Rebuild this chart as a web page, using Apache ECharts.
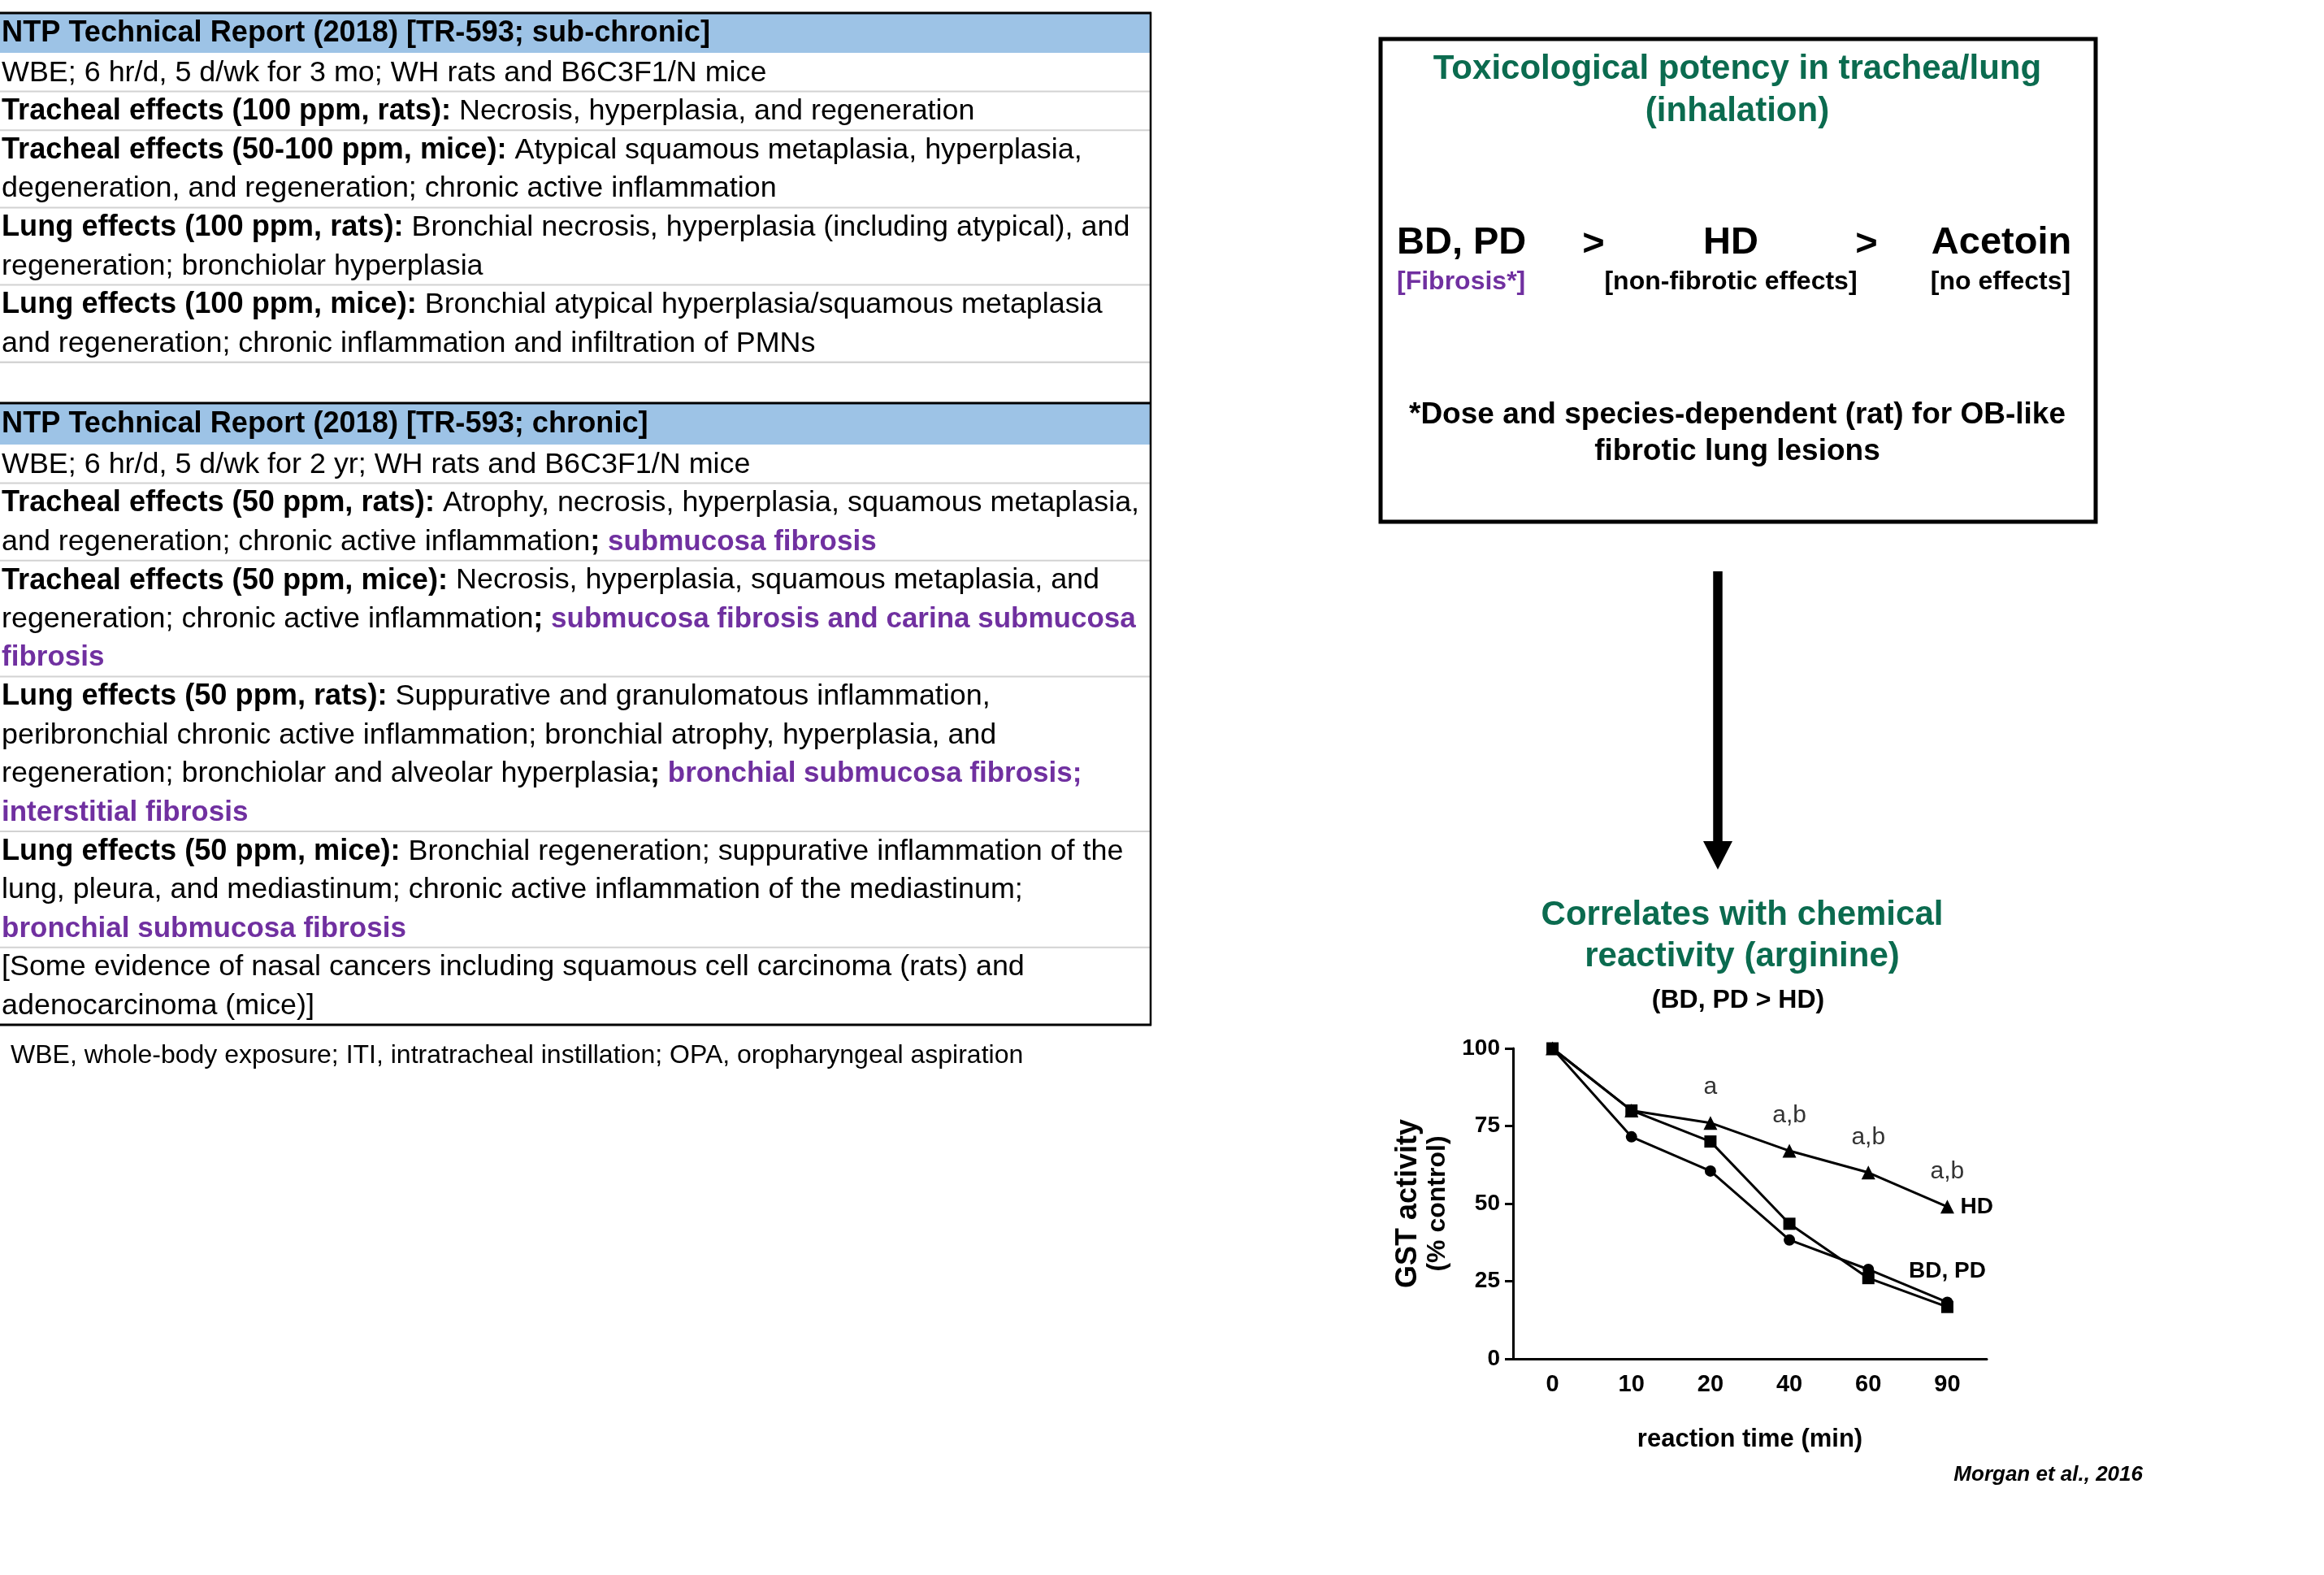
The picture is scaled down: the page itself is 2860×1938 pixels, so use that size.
<!DOCTYPE html>
<html>
<head>
<meta charset="utf-8">
<script src="https://cdn.jsdelivr.net/npm/echarts@6/dist/echarts.min.js"></script>
<style>
html,body{margin:0;padding:0;background:#fff;}
#main{width:2860px;height:1938px;}
</style>
</head>
<body>
<div id="main"></div>
<script>
// ---------------- DATA ----------------
const reactionTimes = ['0', '10', '20', '40', '60', '90'];
const hdValues = [100, 80, 76, 67, 60, 49];
const squareValues = [100, 80, 70, 43.5, 26, 16.7];
const circleValues = [100, 71.5, 60.5, 38.3, 28.8, 18.2];
const hdAnnotations = ['', '', 'a', 'a,b', 'a,b', 'a,b'];
const yTicks = [0, 25, 50, 75, 100];

const subHeader = 'NTP Technical Report (2018) [TR-593; sub-chronic]';
const subRows = [
  ['{r|WBE; 6 hr/d, 5 d/wk for 3 mo; WH rats and B6C3F1/N mice}'],
  ['{b|Tracheal effects (100 ppm, rats):}{r| Necrosis, hyperplasia, and regeneration}'],
  ['{b|Tracheal effects (50-100 ppm, mice):}{r| Atypical squamous metaplasia, hyperplasia,}',
   '{r|degeneration, and regeneration; chronic active inflammation}'],
  ['{b|Lung effects (100 ppm, rats):}{r| Bronchial necrosis, hyperplasia (including atypical), and}',
   '{r|regeneration; bronchiolar hyperplasia}'],
  ['{b|Lung effects (100 ppm, mice):}{r| Bronchial atypical hyperplasia/squamous metaplasia}',
   '{r|and regeneration; chronic inflammation and infiltration of PMNs}'],
  ['']
];
const chronicHeader = 'NTP Technical Report (2018) [TR-593; chronic]';
const chronicRows = [
  ['{r|WBE; 6 hr/d, 5 d/wk for 2 yr; WH rats and B6C3F1/N mice}'],
  ['{b|Tracheal effects (50 ppm, rats):}{r| Atrophy, necrosis, hyperplasia, squamous metaplasia,}',
   '{r|and regeneration; chronic active inflammation}{b|;}{p| submucosa fibrosis}'],
  ['{b|Tracheal effects (50 ppm, mice):}{r| Necrosis, hyperplasia, squamous metaplasia, and}',
   '{r|regeneration; chronic active inflammation}{b|;}{p| submucosa fibrosis and carina submucosa}',
   '{p|fibrosis}'],
  ['{b|Lung effects (50 ppm, rats):}{r| Suppurative and granulomatous inflammation,}',
   '{r|peribronchial chronic active inflammation; bronchial atrophy, hyperplasia, and}',
   '{r|regeneration; bronchiolar and alveolar hyperplasia}{b|;}{p| bronchial submucosa fibrosis;}',
   '{p|interstitial fibrosis}'],
  ['{b|Lung effects (50 ppm, mice):}{r| Bronchial regeneration; suppurative inflammation of the}',
   '{r|lung, pleura, and mediastinum; chronic active inflammation of the mediastinum;}',
   '{p|bronchial submucosa fibrosis}'],
  ['{r|[Some evidence of nasal cancers including squamous cell carcinoma (rats) and}',
   '{r|adenocarcinoma (mice)]}']
];
const footnote = 'WBE, whole-body exposure; ITI, intratracheal instillation; OPA, oropharyngeal aspiration';

const boxTitle = ['Toxicological potency in trachea/lung', '(inhalation)'];
const potencyNames = ['BD, PD', 'HD', 'Acetoin'];
const potencyNotes = ['[Fibrosis*]', '[non-fibrotic effects]', '[no effects]'];
const boxFootnote = ['*Dose and species-dependent (rat) for OB-like', 'fibrotic lung lesions'];
const chartTitle = ['Correlates with chemical', 'reactivity (arginine)'];
const chartSubtitle = '(BD, PD > HD)';
const citation = 'Morgan et al., 2016';

// ---------------- STYLES ----------------
const FF = '"Liberation Sans", Arial, sans-serif';
const GREEN = '#0b6b4f';
const PURPLE = '#7030a0';
const HEADER_BLUE = '#9dc3e6';
const GRID_GRAY = '#d2d2d2';
const TFS = 36.2;
const rich = {
  r: {fontSize: 35.9, fontFamily: FF, fontWeight: 'normal', fill: '#000'},
  b: {fontSize: TFS, fontFamily: FF, fontWeight: 'bold', fill: '#000'},
  p: {fontSize: 35, fontFamily: FF, fontWeight: 'bold', fill: PURPLE}
};

function txt(x, y, text, o) {
  o = o || {};
  return {
    type: 'text', x: x, y: y, z: 10,
    style: Object.assign({
      text: text, fontSize: o.fontSize || TFS, fontFamily: FF,
      fontWeight: o.fontWeight || 'normal', fontStyle: o.fontStyle || 'normal',
      fill: o.fill || '#000',
      align: o.align || 'left', verticalAlign: 'middle',
      textAlign: o.align || 'left', textVerticalAlign: 'middle'
    }, o.rich ? {rich: o.rich} : {})
  };
}

// ---------------- TABLE LAYOUT ----------------
const graphics = [];
const TABLE_R = 1416;
const LH = 47.6;
function section(top, headerH, header, rows) {
  graphics.push({type: 'rect', shape: {x: 0, y: top, width: TABLE_R, height: headerH}, style: {fill: HEADER_BLUE}, z: 1});
  graphics.push(txt(2, top + headerH / 2 + 1, header, {fontWeight: 'bold'}));
  let y = top + headerH;
  rows.forEach(function (lines, i) {
    lines.forEach(function (ln, j) {
      if (ln) graphics.push(txt(2, y + LH * j + LH / 2 + 1, ln, {rich: rich}));
    });
    y += LH * lines.length;
    if (i < rows.length - 1) {
      graphics.push({type: 'line', shape: {x1: 0, y1: y, x2: TABLE_R, y2: y}, style: {stroke: GRID_GRAY, lineWidth: 2}, z: 2});
    }
  });
  return y;
}
const end1 = section(16, 49, subHeader, subRows);
graphics.push({type: 'line', shape: {x1: 0, y1: end1 - LH, x2: TABLE_R, y2: end1 - LH}, style: {stroke: GRID_GRAY, lineWidth: 2}, z: 2});
const end2 = section(496, 51, chronicHeader, chronicRows);
[16, 496, end2].forEach(function (yy) {
  graphics.push({type: 'line', shape: {x1: 0, y1: yy, x2: TABLE_R + 1, y2: yy}, style: {stroke: '#000', lineWidth: 3}, z: 3});
});
graphics.push({type: 'line', shape: {x1: TABLE_R, y1: 15, x2: TABLE_R, y2: end2 + 1}, style: {stroke: '#000', lineWidth: 2.5}, z: 3});
graphics.push(txt(13, 1299, footnote, {fontSize: 32}));

// ---------------- BOX ----------------
graphics.push({type: 'rect', shape: {x: 1699, y: 48, width: 880, height: 594}, style: {fill: 'none', stroke: '#000', lineWidth: 5}, z: 3});
graphics.push(txt(2138, 85, boxTitle[0], {fontSize: 42, fontWeight: 'bold', fill: GREEN, align: 'center'}));
graphics.push(txt(2138, 137, boxTitle[1], {fontSize: 42, fontWeight: 'bold', fill: GREEN, align: 'center'}));
graphics.push(txt(1719, 299, potencyNames[0], {fontSize: 47, fontWeight: 'bold'}));
graphics.push(txt(2130, 299, potencyNames[1], {fontSize: 47, fontWeight: 'bold', align: 'center'}));
graphics.push(txt(2463, 299, potencyNames[2], {fontSize: 47, fontWeight: 'bold', align: 'center'}));
graphics.push(txt(1961, 301, '>', {fontSize: 47, fontWeight: 'bold', align: 'center'}));
graphics.push(txt(2297, 301, '>', {fontSize: 47, fontWeight: 'bold', align: 'center'}));
graphics.push(txt(1719, 347, potencyNotes[0], {fontSize: 32, fontWeight: 'bold', fill: PURPLE}));
graphics.push(txt(2130, 347, potencyNotes[1], {fontSize: 32, fontWeight: 'bold', align: 'center'}));
graphics.push(txt(2462, 347, potencyNotes[2], {fontSize: 32, fontWeight: 'bold', align: 'center'}));
graphics.push(txt(2138, 511, boxFootnote[0], {fontSize: 37, fontWeight: 'bold', align: 'center'}));
graphics.push(txt(2138, 556, boxFootnote[1], {fontSize: 37, fontWeight: 'bold', align: 'center'}));

// ---------------- ARROW ----------------
graphics.push({type: 'line', shape: {x1: 2114, y1: 703, x2: 2114, y2: 1037}, style: {stroke: '#000', lineWidth: 11.5}, z: 3});
graphics.push({type: 'polygon', shape: {points: [[2096, 1035], [2132, 1035], [2114, 1070]]}, style: {fill: '#000'}, z: 3});

// ---------------- CHART TITLES ----------------
graphics.push(txt(2144, 1126, chartTitle[0], {fontSize: 42, fontWeight: 'bold', fill: GREEN, align: 'center'}));
graphics.push(txt(2144, 1177, chartTitle[1], {fontSize: 42, fontWeight: 'bold', fill: GREEN, align: 'center'}));
graphics.push(txt(2139, 1231, chartSubtitle, {fontSize: 32, fontWeight: 'bold', align: 'center'}));
graphics.push(txt(2637, 1815, citation, {fontSize: 26, fontWeight: 'bold', fontStyle: 'italic', align: 'right'}));

// ---------------- CHART ----------------
const lastIdx = circleValues.length - 1;
const lineCommon = {
  type: 'line', lineStyle: {color: '#000', width: 3}, itemStyle: {color: '#000'},
  showSymbol: true, showAllSymbol: true, z: 5
};
const chart = echarts.init(document.getElementById('main'), null, {renderer: 'canvas'});
chart.setOption({
  animation: false,
  backgroundColor: '#fff',
  textStyle: {fontFamily: FF},
  grid: {left: 1862, top: 1290, width: 583, height: 382, containLabel: false},
  xAxis: {
    type: 'category', data: reactionTimes, boundaryGap: true,
    axisLine: {lineStyle: {color: '#000', width: 3}},
    axisTick: {alignWithLabel: true, length: 9, lineStyle: {color: '#000', width: 3}},
    axisLabel: {color: '#000', fontSize: 29, fontWeight: 'bold', fontFamily: FF, margin: 17},
    name: 'reaction time (min)', nameLocation: 'middle', nameGap: 84,
    nameTextStyle: {color: '#000', fontSize: 31, fontWeight: 'bold', fontFamily: FF}
  },
  yAxis: {
    type: 'value', min: yTicks[0], max: yTicks[yTicks.length - 1], interval: 25,
    splitLine: {show: false},
    axisLine: {show: true, lineStyle: {color: '#000', width: 3}},
    axisTick: {show: true, length: 10, lineStyle: {color: '#000', width: 3}},
    axisLabel: {color: '#000', fontSize: 28, fontWeight: 'bold', fontFamily: FF, margin: 16},
    name: '{a|GST activity}\n{b|(% control)}', nameLocation: 'middle', nameRotate: 90, nameGap: 75,
    nameTextStyle: {
      rich: {
        a: {fontSize: 36, fontWeight: 'bold', fontFamily: FF, color: '#000', lineHeight: 36, align: 'center'},
        b: {fontSize: 32, fontWeight: 'bold', fontFamily: FF, color: '#000', lineHeight: 36, align: 'center'}
      }
    }
  },
  series: [
    Object.assign({}, lineCommon, {
      name: 'HD', data: hdValues, symbol: 'triangle', symbolSize: 17,
      label: {
        show: true, position: 'top', distance: 20, color: '#333', fontSize: 30, fontFamily: FF,
        formatter: function (p) { return hdAnnotations[p.dataIndex]; }
      },
      endLabel: {show: true, formatter: 'HD', color: '#000', fontSize: 28, fontWeight: 'bold', fontFamily: FF, distance: 16}
    }),
    Object.assign({}, lineCommon, {
      name: 'circle', data: circleValues, symbol: 'circle', symbolSize: 14,
      label: {
        show: true, position: 'top', distance: 17, color: '#000', fontSize: 28, fontWeight: 'bold', fontFamily: FF,
        formatter: function (p) { return p.dataIndex === lastIdx ? 'BD, PD' : ''; }
      }
    }),
    Object.assign({}, lineCommon, {
      name: 'square', data: squareValues, symbol: 'rect', symbolSize: 15
    })
  ],
  graphic: {elements: graphics}
});
</script>
</body>
</html>
